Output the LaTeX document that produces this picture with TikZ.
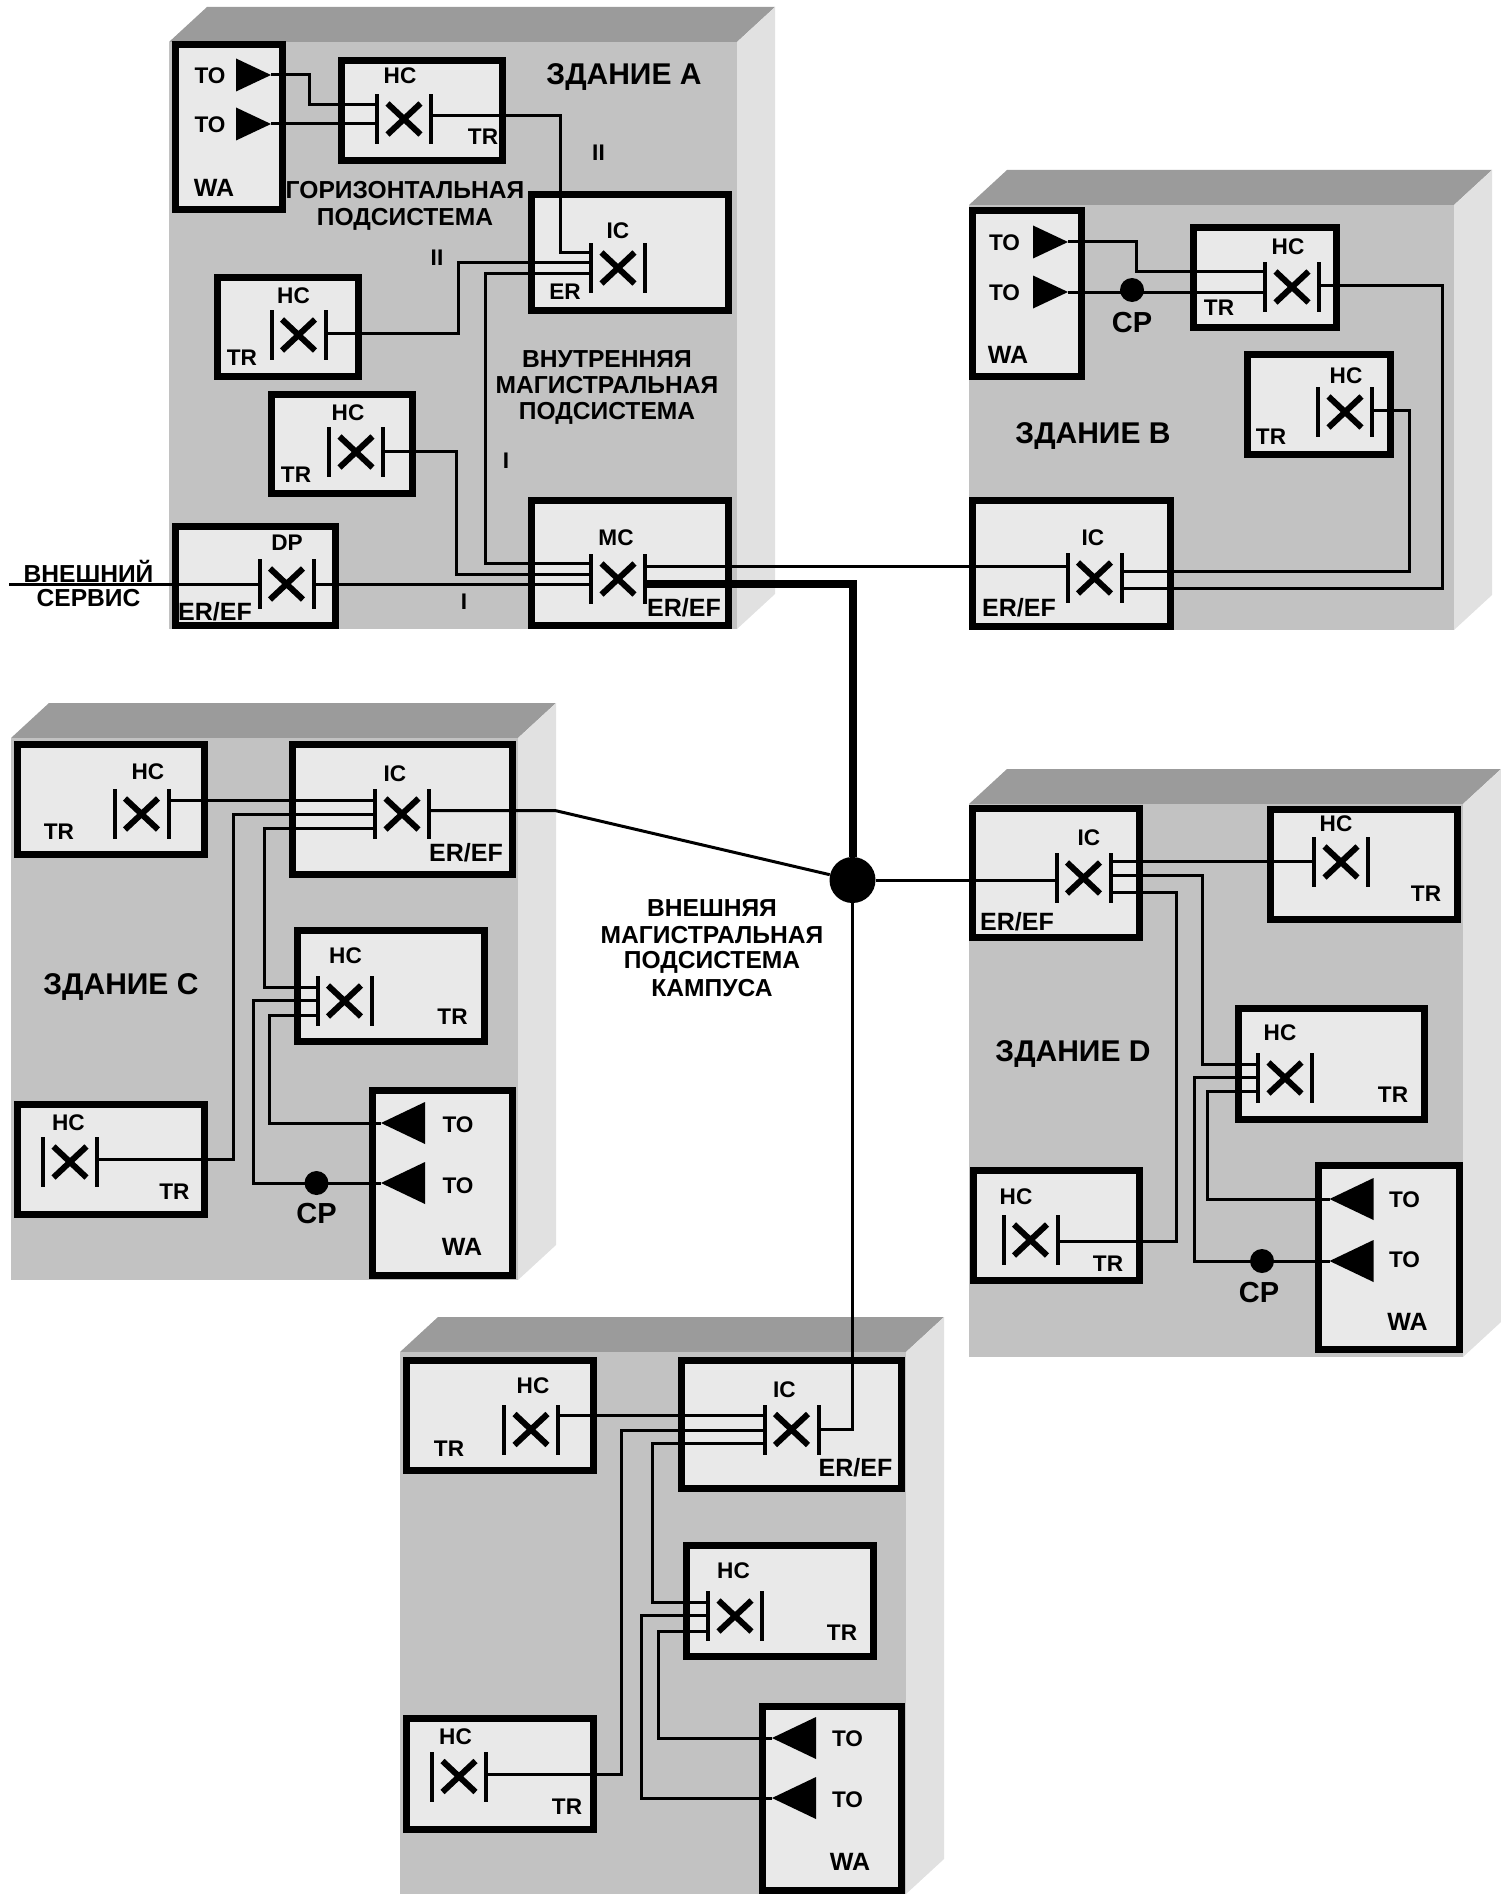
\documentclass[tikz,border=0pt]{standalone}
\usepackage{fontspec}
\setmainfont{Liberation Sans}
\usetikzlibrary{calc,fit,shapes.geometric,shapes.misc}
\definecolor{roofgray}{HTML}{9B9B9B}
\definecolor{frontgray}{HTML}{C2C2C2}
\definecolor{sidegray}{HTML}{E1E1E1}
\definecolor{boxgray}{HTML}{E9E9E9}
\tikzset{%
  unit/.style={rectangle,inner sep=0pt,draw=black,fill=boxgray,line width=3.5pt},
  xmark/.style={cross out,draw=black,line width=3pt,minimum width=13.5pt,minimum height=12.5pt,inner sep=0pt},
  bar/.style={rectangle,fill=black,minimum width=2pt,minimum height=25pt,inner sep=0pt},
  wire/.style={draw=black,line width=1.5pt},
  trunk/.style={draw=black,line width=4pt},
  outlet/.style={isosceles triangle,isosceles triangle stretches,fill=black,inner sep=0pt,outer sep=0pt,anchor=apex},
  outr/.style={outlet,minimum height=17.5pt,minimum width=16.5pt},
  outl/.style={outlet,shape border rotate=180,minimum height=22pt,minimum width=21pt},
  dot/.style={circle,fill=black,minimum size=12pt,inner sep=0pt},
  hub/.style={circle,fill=black,minimum size=23pt,inner sep=0pt},
  tag/.style={inner sep=0pt,font=\bfseries\fontsize{11.3}{11.3}\selectfont},
  widetag/.style={inner sep=0pt,font=\bfseries\fontsize{12.5}{12.5}\selectfont},
  note/.style={inner sep=0pt,font=\bfseries\fontsize{12.3}{12.3}\selectfont},
  cptag/.style={inner sep=0pt,font=\bfseries\fontsize{14.5}{14.5}\selectfont},
  title/.style={inner sep=0pt,font=\bfseries\fontsize{15}{15}\selectfont}
}
\newcommand{\bldg}[4]{%
  \fill [roofgray] (#1,#2) -- (#1+38,#2-35) -- (#3+38,#2-35) -- (#3,#2) -- cycle;
  \fill [sidegray] (#3,#2) -- (#3+38,#2-35) -- (#3+38,#4-35) -- (#3,#4) -- cycle;
  \fill [frontgray] (#1,#2) rectangle (#3,#4);
}
\newcommand{\ubox}[5]{\node [unit,fit={(#2+3.5,#3+3.5) (#4-3.5,#5-3.5)}] (#1) {};}
\newcommand{\xconn}[3]{%
  \node [xmark] (#1) at (#2,#3) {};
  \node [bar] (#1-l) [left of=#1] {};
  \node [bar] (#1-r) [right of=#1] {};
}
\begin{document}
\begin{tikzpicture}[x=0.5pt,y=-0.5pt,node distance=13.5pt]
  \useasboundingbox (0,0) rectangle (1500,1894);

  % buildings
  \bldg{169}{42}{737}{629}
  \bldg{969}{205}{1454}{630}
  \bldg{11}{738}{518}{1280}
  \bldg{969}{804}{1463}{1357}
  \bldg{400}{1352}{906}{1894}

  % building A
  \ubox{waa}{172}{41}{286}{213}
  \ubox{hca1}{338}{57}{506}{164}
  \ubox{ica}{528}{191}{732}{314}
  \ubox{hca2}{214}{274}{362}{380}
  \ubox{hca3}{268}{391}{416}{497}
  \ubox{dp}{172}{523}{339}{629}
  \ubox{mc}{528}{497}{732}{629}
  \xconn{hca1}{404}{119}
  \xconn{ica}{618}{268}
  \xconn{hca2}{298.5}{335}
  \xconn{hca3}{356}{452}
  \xconn{dp}{286.5}{584}
  \xconn{mc}{618}{579}
  \node [outr] (toa1) at (271,75) {};
  \node [outr] (toa2) at (271,124) {};
  \node [tag] (toa1t) at (210,75.5) {TO};
  \node [tag] (toa2t) at (210,124.5) {TO};
  \node [widetag] (waat) at (214,188) {WA};
  \node [tag] (hca1n) at (400,76) {HC};
  \node [tag] (hca1t) at (483,137) {TR};
  \node [tag] (hca2n) at (293.5,296) {HC};
  \node [tag] (hca2t) at (242,358) {TR};
  \node [tag] (hca3n) at (348,413) {HC};
  \node [tag] (hca3t) at (296,475) {TR};
  \node [tag] (ican) at (618,231) {IC};
  \node [tag] (icat) at (565,292) {ER};
  \node [tag] (mcn) at (616,538) {MC};
  \node [widetag] (mct) at (684,608) {ER/EF};
  \node [tag] (dpn) at (287,543) {DP};
  \node [widetag] (dpt) at (215,612) {ER/EF};
  \node [title] (titlea) at (624,77) {ЗДАНИЕ А};
  \node [note] (horza) at (405,190) {ГОРИЗОНТАЛЬНАЯ};
  \node [note] (horzb) at (405,219) {ПОДСИСТЕМА};
  \node [note] (inta) at (607,359) {ВНУТРЕННЯЯ};
  \node [note] (intb) at (607,385.5) {МАГИСТРАЛЬНАЯ};
  \node [note] (intc) at (607,413) {ПОДСИСТЕМА};
  \node [note] (exta) at (88.5,571) {ВНЕШНИЙ};
  \node [note] (extb) at (88.5,598) {СЕРВИС};
  \node [tag] (lvl2a) at (598.5,153) {II};
  \node [tag] (lvl2b) at (437,258) {II};
  \node [tag] (lvl1a) at (506,461) {I};
  \node [tag] (lvl1b) at (464,602) {I};
  \coordinate (ext) at (9,584);
  \draw [wire] (toa1.apex) -| (309.5,105) -- (hca1-l |- 0,105);
  \draw [wire] (toa2.apex) -- (hca1-l |- toa2.apex);
  \draw [wire] (hca1-r |- 0,116) -| (560,253) -- (ica-l |- 0,253);
  \draw [wire] (hca2-r |- 0,333) -| (458,263) -- (ica-l |- 0,263);
  \draw [wire] (hca3-r |- 0,451) -| (456,574) -- (mc-l |- 0,574);
  \draw [wire] (ica-l |- 0,273) -| (485,563) -- (mc-l |- 0,563);
  \draw [wire] (ext) -- (dp-l |- ext);
  \draw [wire] (dp-r |- ext) -- (mc-l |- ext);

  % building B
  \ubox{wab}{969}{207}{1085}{380}
  \ubox{hcb1}{1190}{224}{1340}{331}
  \ubox{hcb2}{1244}{351}{1394}{458}
  \ubox{icb}{969}{497}{1174}{630}
  \xconn{hcb1}{1292}{287}
  \xconn{hcb2}{1345}{412}
  \xconn{icb}{1094.5}{578}
  \node [outr] (tob1) at (1068,242) {};
  \node [outr] (tob2) at (1068,292) {};
  \node [dot] (cpb) at (1132,290) {};
  \node [cptag] (cpbt) at (1132,323) {CP};
  \node [tag] (tob1t) at (1004.5,242.5) {TO};
  \node [tag] (tob2t) at (1004.5,292.5) {TO};
  \node [widetag] (wabt) at (1008,355) {WA};
  \node [tag] (hcb1n) at (1288,247) {HC};
  \node [tag] (hcb1t) at (1219,308) {TR};
  \node [tag] (hcb2n) at (1346,376) {HC};
  \node [tag] (hcb2t) at (1271,437) {TR};
  \node [tag] (icbn) at (1093,538) {IC};
  \node [widetag] (icbt) at (1019,608) {ER/EF};
  \node [title] (titleb) at (1093,436) {ЗДАНИЕ В};
  \draw [wire] (tob1.apex) -| (1136,271) -- (hcb1-l |- 0,271);
  \draw [wire] (tob2.apex) -- (hcb1-l |- tob2.apex);
  \draw [wire] (hcb1-r |- 0,285) -| (1442,588) -- (icb-r |- 0,588);
  \draw [wire] (hcb2-r |- 0,410) -| (1409,571) -- (icb-r |- 0,571);
  \draw [wire] (mc-r |- 0,566) -- (icb-l |- 0,566);

  % building C
  \ubox{hcc1}{14}{741}{208}{858}
  \ubox{icc}{289}{741}{516}{878}
  \ubox{hcc2}{294}{927}{488}{1045}
  \ubox{hcc3}{14}{1101}{208}{1218}
  \ubox{wac}{369}{1087}{516}{1279}
  \xconn{hcc1}{141.5}{814}
  \xconn{icc}{402}{814}
  \xconn{hcc2}{344.5}{1001}
  \xconn{hcc3}{70}{1162}
  \node [outl] (toc1) at (381,1123) {};
  \node [outl] (toc2) at (381,1183) {};
  \node [dot] (cpc) at (316.5,1183) {};
  \node [cptag] (cpct) at (316.5,1214) {CP};
  \node [tag] (toc1t) at (458,1124.5) {TO};
  \node [tag] (toc2t) at (458,1185.5) {TO};
  \node [widetag] (wact) at (462,1247) {WA};
  \node [tag] (hcc1n) at (148,771.5) {HC};
  \node [tag] (hcc1t) at (59,832) {TR};
  \node [tag] (iccn) at (395,774) {IC};
  \node [widetag] (icct) at (466,853) {ER/EF};
  \node [tag] (hcc2n) at (345.5,956) {HC};
  \node [tag] (hcc2t) at (452.5,1017) {TR};
  \node [tag] (hcc3n) at (68.5,1122.5) {HC};
  \node [tag] (hcc3t) at (174.5,1192) {TR};
  \node [title] (titlec) at (121,987) {ЗДАНИЕ C};
  \coordinate (cbend) at (555,810.5);
  \draw [wire] (hcc1-r |- 0,800) -- (icc-l |- 0,800);
  \draw [wire] (icc-l |- 0,814) -| (233,1159) -- (hcc3-r |- 0,1159);
  \draw [wire] (icc-l |- 0,828) -| (264,987) -- (hcc2-l |- 0,987);
  \draw [wire] (hcc2-l |- 0,1000) -| (253.5,1183) -- (toc2.apex);
  \draw [wire] (hcc2-l |- 0,1015) -| (269,1123) -- (toc1.apex);

  % building D
  \ubox{icd}{969}{805}{1143}{941}
  \ubox{hcd1}{1267}{806}{1461}{923}
  \ubox{hcd2}{1235}{1005}{1428}{1123}
  \ubox{hcd3}{970}{1167}{1143}{1284}
  \ubox{wad}{1315}{1162}{1463}{1353}
  \xconn{icd}{1083.5}{878}
  \xconn{hcd1}{1341}{862}
  \xconn{hcd2}{1285}{1078}
  \xconn{hcd3}{1030.5}{1240}
  \node [outl] (tod1) at (1329.5,1199) {};
  \node [outl] (tod2) at (1329.5,1261) {};
  \node [dot] (cpd) at (1262,1261) {};
  \node [cptag] (cpdt) at (1259,1293) {CP};
  \node [tag] (tod1t) at (1404.5,1200) {TO};
  \node [tag] (tod2t) at (1404.5,1260) {TO};
  \node [widetag] (wadt) at (1407.5,1322) {WA};
  \node [tag] (icdn) at (1089,838) {IC};
  \node [widetag] (icdt) at (1017,922) {ER/EF};
  \node [tag] (hcd1n) at (1336,824) {HC};
  \node [tag] (hcd1t) at (1426,894) {TR};
  \node [tag] (hcd2n) at (1280,1033) {HC};
  \node [tag] (hcd2t) at (1393,1094.5) {TR};
  \node [tag] (hcd3n) at (1016,1197) {HC};
  \node [tag] (hcd3t) at (1108,1264) {TR};
  \node [title] (titled) at (1073,1054) {ЗДАНИЕ D};
  \draw [wire] (icd-r |- 0,861) -- (hcd1-l |- 0,861);
  \draw [wire] (icd-r |- 0,875.5) -| (1202.5,1064.5) -- (hcd2-l |- 0,1064.5);
  \draw [wire] (icd-r |- 0,892) -| (1176.5,1241) -- (hcd3-r |- 0,1241);
  \draw [wire] (hcd2-l |- 0,1077) -| (1194,1261) -- (tod2.apex);
  \draw [wire] (hcd2-l |- 0,1091) -| (1207,1199) -- (tod1.apex);

  % building E
  \ubox{hce1}{403}{1357}{597}{1474}
  \ubox{ice}{678}{1357}{905}{1492}
  \ubox{hce2}{683}{1542}{877}{1660}
  \ubox{hce3}{403}{1715}{597}{1833}
  \ubox{wae}{759}{1703}{905}{1894}
  \xconn{hce1}{531}{1429.5}
  \xconn{ice}{791.5}{1429.5}
  \xconn{hce2}{735}{1616}
  \xconn{hce3}{459}{1776.5}
  \node [outl] (toe1) at (772,1738) {};
  \node [outl] (toe2) at (772,1798) {};
  \node [tag] (toe1t) at (847.5,1739) {TO};
  \node [tag] (toe2t) at (847.5,1800) {TO};
  \node [widetag] (waet) at (850,1862) {WA};
  \node [tag] (hce1n) at (533,1386) {HC};
  \node [tag] (hce1t) at (449,1448.5) {TR};
  \node [tag] (icen) at (784.5,1390) {IC};
  \node [widetag] (icet) at (855.5,1468) {ER/EF};
  \node [tag] (hce2n) at (733.5,1571) {HC};
  \node [tag] (hce2t) at (842,1632.5) {TR};
  \node [tag] (hce3n) at (455.5,1737) {HC};
  \node [tag] (hce3t) at (567,1807) {TR};
  \draw [wire] (hce1-r |- 0,1415.5) -- (ice-l |- 0,1415.5);
  \draw [wire] (ice-l |- 0,1430) -| (621.5,1774) -- (hce3-r |- 0,1774);
  \draw [wire] (ice-l |- 0,1443) -| (652.5,1602) -- (hce2-l |- 0,1602);
  \draw [wire] (hce2-l |- 0,1615) -| (641.5,1798) -- (toe2.apex);
  \draw [wire] (hce2-l |- 0,1631) -| (658,1738) -- (toe1.apex);

  % campus backbone
  \node [hub] (hub) at (852.5,880) {};
  \node [note] (cama) at (712,908) {ВНЕШНЯЯ};
  \node [note] (camb) at (712,935) {МАГИСТРАЛЬНАЯ};
  \node [note] (camc) at (712,962) {ПОДСИСТЕМА};
  \node [note] (camd) at (712,988) {КАМПУСА};
  \draw [trunk] (mc-r |- 0,584) -| (hub);
  \draw [wire] (icc-r |- cbend) -- (cbend) -- (hub);
  \draw [wire] (hub) -- (icd-l |- hub);
  \draw [wire] (hub) |- (ice-r);
\end{tikzpicture}
\end{document}
